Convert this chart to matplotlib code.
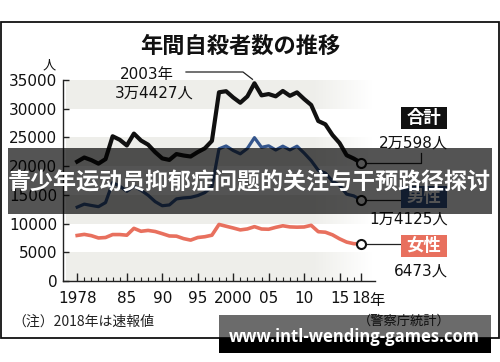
import numpy as np
import matplotlib
matplotlib.use('Agg')
import matplotlib.pyplot as plt
from matplotlib.patches import Rectangle

plt.rcParams['font.family'] = ['DejaVu Sans', 'Noto Sans CJK JP']

# ---------------- data ----------------
years = list(range(1978, 2019))
total = [20788, 21503, 21048, 20434, 21228, 25202, 24596, 23599, 25667, 24460,
         23742, 22436, 21346, 21084, 22104, 21851, 21679, 22445, 23104, 24391,
         32863, 33048, 31957, 31042, 32143, 34427, 32325, 32552, 32155, 33093,
         32249, 32845, 31690, 30651, 27858, 27283, 25427, 24025, 21897, 21321, 20598]
male = [12859, 13386, 13155, 12942, 13654, 17116, 16508, 15624, 16497, 15802,
        14934, 13818, 13102, 13242, 14296, 14468, 14560, 14874, 15393, 16416,
        23013, 23512, 22727, 22144, 23080, 24963, 23272, 23540, 22813, 23478,
        22831, 23472, 22283, 20955, 19273, 18787, 17386, 16681, 15121, 14826, 14125]
female = [7929, 8117, 7893, 7492, 7574, 8086, 8088, 7975, 9170, 8658,
          8808, 8618, 8244, 7842, 7808, 7383, 7119, 7571, 7711, 7975,
          9850, 9536, 9230, 8898, 9063, 9464, 9053, 9012, 9342, 9615,
          9418, 9373, 9407, 9696, 8585, 8496, 8041, 7344, 6776, 6495, 6473]
y_ticks = [0, 5000, 10000, 15000, 20000, 25000, 30000, 35000]
x_major = [1978, 1985, 1990, 1995, 2000, 2005, 2010, 2015, 2018]
x_labels = ['1978', '85', '90', '95', '2000', '05', '10', '15', '18']
bands = [(0, 5000), (10000, 15000), (20000, 25000), (30000, 35000)]

title = '年間自殺者数の推移'
banner_text = '青少年运动员抑郁症问题的关注与干预路径探讨'
watermark = 'www.intl-wending-games.com'

C_TOTAL = '#111111'
C_MALE = '#34558c'
C_FEMALE = '#e8705e'

W, H = 500, 362
fig = plt.figure(figsize=(W / 100, H / 100), dpi=100)
fig.patch.set_facecolor('white')

# main axes (pixel layout: left 63, right 375, bottom 281, top 80)
ax = fig.add_axes([63 / W, (H - 281) / H, 312 / W, 201 / H])
ax.set_xlim(1976, 2020)
ax.set_ylim(0, 35000)
ax.patch.set_alpha(0)

# overlay axes in pixel coordinates
ov = fig.add_axes([0, 0, 1, 1], zorder=10)
ov.set_xlim(0, W)
ov.set_ylim(H, 0)
ov.axis('off')
ov.patch.set_alpha(0)

# shaded bands fading to the right
xs = np.linspace(1976, 2020, 300)
alpha = np.clip((2019.5 - xs) / (2019.5 - 2011), 0, 1)
img = np.zeros((1, len(xs), 4))
img[..., 0] = 0.937
img[..., 1] = 0.937
img[..., 2] = 0.918
img[..., 3] = alpha
for lo, hi in bands:
    ax.imshow(img, extent=(1976.4, 2020, lo, hi), aspect='auto', zorder=0,
              interpolation='bilinear')
ax.set_xlim(1976, 2020)
ax.set_ylim(0, 35000)

# lines
ax.plot(years, female, color=C_FEMALE, lw=2.6, zorder=3, solid_joinstyle='round')
ax.plot(years, male, color=C_MALE, lw=2.3, zorder=3, solid_joinstyle='round')
ax.plot(years, total, color=C_TOTAL, lw=3.0, zorder=3, solid_joinstyle='round',
        clip_on=False)

# axes styling
for s in ['top', 'right']:
    ax.spines[s].set_visible(False)
ax.spines['left'].set_linewidth(1.0)
ax.spines['bottom'].set_linewidth(1.0)
ax.spines['left'].set_color('#222222')
ax.spines['bottom'].set_color('#222222')
ax.set_yticks(y_ticks)
ax.set_yticklabels([str(v) for v in y_ticks])
ax.set_xticks(x_major)
ax.set_xticklabels(x_labels)
ax.set_xticks(years, minor=True)
ax.tick_params(axis='y', direction='in', length=4, width=1, pad=4,
               labelsize=11, colors='#222222', labelcolor='#111111')
ax.tick_params(axis='x', which='major', direction='in', length=6, width=1,
               pad=7, labelsize=11, colors='#222222', labelcolor='#111111')
ax.tick_params(axis='x', which='minor', direction='in', length=3, width=0.8,
               colors='#222222')


def px(x, y):
    return ov.transData.inverted().transform(ax.transData.transform((x, y)))


# end points and connectors
ends = [(total[-1], C_TOTAL), (male[-1], C_MALE), (female[-1], C_FEMALE)]
for val, _ in ends:
    ax.plot([years[-1]], [val], 'o', ms=6.5, mfc='white', mec='#111111',
            mew=1.5, zorder=6, clip_on=False)

p_tot = px(years[-1], total[-1])
p_m = px(years[-1], male[-1])
p_f = px(years[-1], female[-1])
ax.plot([p_tot[0], 421, 421], [p_tot[1], p_tot[1], 153], color='#222222',
        lw=0.9, transform=ov.transData, clip_on=False, zorder=4)
ax.plot([p_m[0], 401], [p_m[1], p_m[1]], color='#222222', lw=0.9,
        transform=ov.transData, clip_on=False, zorder=4)
ax.plot([p_f[0], 401], [p_f[1], p_f[1]], color='#222222', lw=0.9,
        transform=ov.transData, clip_on=False, zorder=4)

# 2003 peak annotation
i_pk = int(np.argmax(total))
p_pk = px(years[i_pk], total[i_pk])
ov.plot([186, 243, p_pk[0] - 2, ], [72, 72, p_pk[1] - 4], color='#222222', lw=0.9)
ov.text(147, 74, f'{years[i_pk]}年', fontsize=11, ha='center', va='center',
        color='#111111')
ov.text(154, 93, '3万4427人', fontsize=11, ha='center', va='center',
        color='#111111')

# legend boxes
boxes = [('合計', 107, C_TOTAL), ('男性', 186, C_MALE), ('女性', 235, C_FEMALE)]
for lab, y0, col in boxes:
    ov.add_patch(Rectangle((401, y0), 46, 22, color=col, lw=0))
    ov.text(424, y0 + 11, lab, fontsize=12.5, weight='bold', color='white',
            ha='center', va='center', family=['Noto Sans CJK JP'])

ov.text(448, 143, '2万598人', fontsize=11, ha='right', va='center', color='#111111')
ov.text(448, 219, '1万4125人', fontsize=11, ha='right', va='center', color='#111111')
ov.text(448, 271, '6473人', fontsize=11, ha='right', va='center', color='#111111')

# other texts
ov.text(240, 46, title, fontsize=16, weight='bold', ha='center', va='center',
        color='#111111', family=['Noto Sans CJK JP'])
ov.text(49, 66, '人', fontsize=9.5, ha='center', va='center', color='#111111',
        family=['Noto Sans CJK JP'])
p18 = px(2018, 0)
ov.text(p18[0] + 8.5, 300, '年', fontsize=11, ha='left', va='center',
        color='#111111', family=['Noto Sans CJK JP'])
ov.text(12, 322, '（注）2018年は速報値', fontsize=10, ha='left', va='center',
        color='#222222', family=['Noto Sans CJK JP', 'DejaVu Sans'])
ov.text(451, 321, '（警察庁統計）', fontsize=9.5, ha='right', va='center',
        color='#222222', family=['Noto Sans CJK JP'])

# border
ov.add_patch(Rectangle((1, 22), 498, 316, fill=False, ec='#111111', lw=1.3))

# banner overlay
ov.add_patch(Rectangle((8, 148), 484, 66, color='black', alpha=0.67, lw=0, zorder=20))
ov.text(249.5, 183, banner_text, fontsize=16.6, weight='bold', color='white',
        ha='center', va='center', zorder=21,
        family=['Noto Sans CJK SC', 'DejaVu Sans'])

# watermark
ov.add_patch(Rectangle((219, 315), 272, 23, color='black', alpha=0.58, lw=0, zorder=20))
ov.add_patch(Rectangle((219, 338), 272, 15, color='black', lw=0, zorder=20))
ov.text(229, 342, watermark, fontsize=12, weight='bold', color='white',
        ha='left', va='baseline', zorder=21, family=['Open Sans', 'DejaVu Sans'])

fig.savefig('out.png', dpi=100, facecolor='white')
